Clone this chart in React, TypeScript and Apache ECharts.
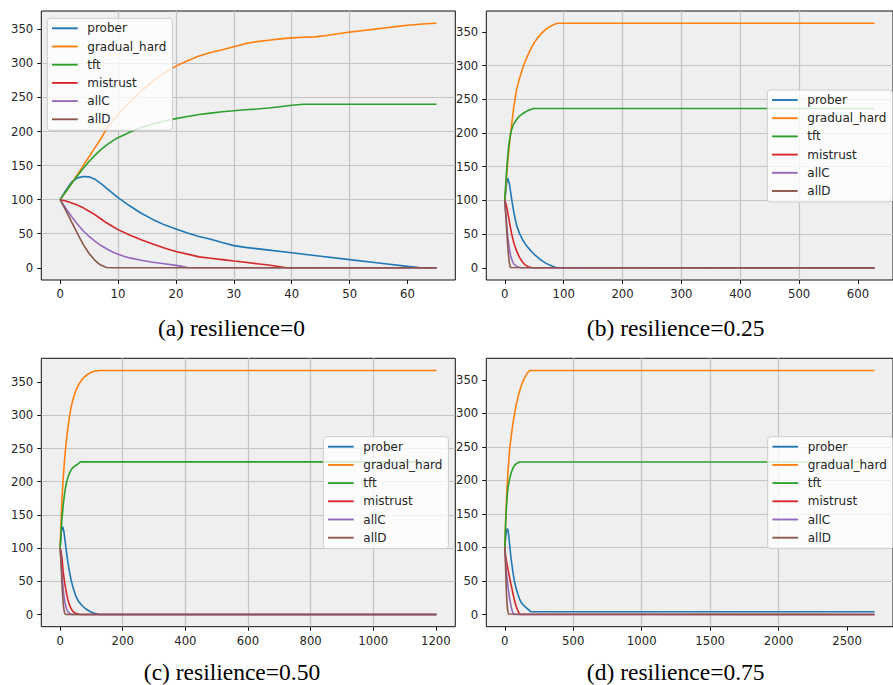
import React, { useEffect, useRef } from 'react';
import * as echarts from 'echarts';

// ---------- labels / ticks ----------
const seriesNames = ['prober', 'gradual_hard', 'tft', 'mistrust', 'allC', 'allD'];
const seriesColors = ['#1f77b4', '#ff7f0e', '#2ca02c', '#d62728', '#9467bd', '#8c564b'];
const captions = ['(a) resilience=0', '(b) resilience=0.25', '(c) resilience=0.50', '(d) resilience=0.75'];
const yTicks = [0, 50, 100, 150, 200, 250, 300, 350];
const xTicksA = [0, 10, 20, 30, 40, 50, 60];
const xTicksB = [0, 100, 200, 300, 400, 500, 600];
const xTicksC = [0, 200, 400, 600, 800, 1000, 1200];
const xTicksD = [0, 500, 1000, 1500, 2000, 2500];

// ---------- (a) resilience = 0 ----------
const aProber = [[0,100],[1,114],[2,126],[3,132],[4,134],[5,133.5],[6,130],[7,124],[8,117],[9,110],[10,103],[12,91],[14,80],[16,71],[18,63],[20,57],[22,51],[24,46],[26,42],[28,37],[30,32.5],[32,30],[35,27],[40,22],[45,17],[50,12],[55,7],[60,2],[62,0.5],[63,0],[65,0]];
const aGradual = [[0,100],[1,112],[2,124],[3,137],[4,150],[5,163],[6,176],[7,189],[8,204],[9,215],[10,225],[12,243],[14,259],[16,274],[18,286],[20,296],[22,304],[24,311],[26,316],[28,320],[30,324.5],[32,329],[34,332],[36,334],[38,336],[40,337.5],[42,338.5],[44,339],[46,341],[48,343.5],[50,346],[52,348],[54,350],[56,352],[58,354],[60,356],[62,357.5],[64,358.5],[65,359]];
const aTft = [[0,100],[1,112],[2,124],[3,135],[4,146],[5,156],[6,165],[7,173],[8,180],[9,186],[10,191],[12,199],[14,206],[16,211],[18,215.5],[20,219],[22,222],[24,225],[26,227],[28,229],[30,230.5],[32,232],[34,233],[36,234.5],[38,236.5],[40,238.5],[42,240],[65,240]];
const aMistrust = [[0,100],[1,98],[2,95],[3,92],[4,88],[5,83],[6,78],[7,72],[8,66],[9,61],[10,56],[12,48],[14,41],[16,35],[18,29],[20,24],[22,20],[24,16],[26,14],[28,12],[30,10],[32,8],[34,6],[36,4],[38,1.5],[39,0],[65,0]];
const aAllC = [[0,100],[1,87],[2,75],[3,64],[4,54],[5,46],[6,39],[7,33],[8,28],[9,23.5],[10,20],[11,17],[12,14.5],[14,11],[16,8],[18,6],[20,3.5],[21,2],[22,0.5],[23,0],[65,0]];
const aAllD = [[0,100],[1,84],[2,67],[3,50],[4,34],[5,21],[6,11],[7,4],[8,0.5],[9,0],[65,0]];

// ---------- (b) resilience = 0.25 ----------
const bProber = [[0,100],[3,125],[5,133],[6,133],[8,124],[10,112],[12,100],[15,84],[20,63],[25,51],[30,42],[35,35],[40,29.5],[45,24.5],[50,20],[60,12.5],[70,6.5],[80,2.5],[85,1],[89,0],[628,0]];
const bGradual = [[0,100],[2,124],[4,146],[6,166],[8,184],[10,200],[12,215],[15,237],[20,264],[25,281],[30,295],[35,307],[40,317],[45,326],[50,334],[55,340],[60,345.5],[65,350],[70,354],[75,357],[80,359.5],[85,361.5],[90,362.8],[628,362.8]];
const bTft = [[0,100],[2,130],[4,155],[6,175],[8,189],[10,199],[12,206],[15,213],[20,220],[25,225],[30,228.5],[35,231],[40,233.5],[45,235.2],[49,236.3],[628,236.3]];
const bMistrust = [[0,100],[2,95],[4,87],[6,77],[8,67],[10,58],[12,49],[15,38],[20,25],[25,15.5],[30,8.5],[35,4],[40,1.5],[45,0.3],[48,0],[628,0]];
const bAllC = [[0,100],[1,88],[2,77],[3,66],[4,56],[5,47],[6,39],[8,27],[10,18],[12,12],[15,6],[20,2],[25,0.5],[28,0],[628,0]];
const bAllD = [[0,100],[1,87],[2,74],[3,60],[4,46],[5,33],[6,22],[7,13],[8,6],[9,2],[10,0.3],[11,0],[628,0]];

// ---------- (c) resilience = 0.50 ----------
const cProber = [[0,100],[4,125],[7,132],[9,131],[12,125],[15,114],[20,95],[25,78],[30,64],[35,52],[40,43],[45,35],[50,28],[55,23],[60,19],[70,13.5],[80,9],[90,6],[100,3.5],[110,1.8],[120,0.7],[127,0],[1202,0]];
const cGradual = [[0,100],[3,140],[6,175],[10,206],[15,238],[20,262],[25,282],[30,298],[35,312],[40,322],[45,330],[50,337],[60,347],[70,354],[80,359],[90,362.5],[100,365],[110,366.5],[120,367.3],[128,367.6],[1202,367.6]];
const cTft = [[0,100],[3,125],[6,145],[10,165],[15,185],[20,198],[25,207],[30,213],[35,217.5],[40,221],[45,223],[50,224.5],[55,226],[60,228],[65,230],[1202,230]];
const cMistrust = [[0,100],[3,95],[6,85],[10,64],[15,46],[20,33],[25,22],[30,14],[35,9],[40,5],[45,3],[50,1.8],[55,1],[60,0.4],[66,0],[1202,0]];
const cAllC = [[0,100],[2,88],[4,74],[6,61],[8,49],[10,38],[12,29],[15,19],[20,9],[25,4],[30,1.5],[35,0.3],[38,0],[1202,0]];
const cAllD = [[0,100],[2,85],[4,66],[6,46],[8,29],[10,16],[12,8],[14,3],[16,0.8],[18,0],[1202,0]];

// ---------- (d) resilience = 0.75 ----------
const dProber = [[0,100],[8,118],[15,127],[20,128],[25,124],[30,116],[36,103],[45,85],[55,70],[60,62],[70,50],[84,38],[96,30],[108,23],[120,18],[132,15],[144,12.5],[160,9.5],[175,7],[185,5],[190,4],[2700,4]];
const dGradual = [[0,100],[8,150],[16,188],[24,215],[36,248],[48,268],[60,286],[72,300],[84,313],[96,324],[108,333],[120,341],[132,347.5],[144,353],[156,357.5],[168,361],[180,363.5],[186,364],[2700,364]];
const dTft = [[0,100],[6,135],[12,160],[18,178],[24,190],[36,203],[48,212],[60,218.5],[72,222.5],[84,225],[96,226.5],[108,227.6],[2700,227.6]];
const dMistrust = [[0,100],[6,88],[12,80],[24,67],[36,54],[48,42.5],[60,31],[72,20],[84,11.5],[96,5.5],[104,2.5],[112,0],[2700,0]];
const dAllC = [[0,100],[6,80],[12,63],[24,40],[36,23],[48,10],[55,5],[60,2],[65,0],[2700,0]];
const dAllD = [[0,100],[4,82],[8,55],[12,33],[16,17],[20,8],[24,3],[28,0.8],[31,0],[2700,0]];

const panelData = [
  [aProber, aGradual, aTft, aMistrust, aAllC, aAllD],
  [bProber, bGradual, bTft, bMistrust, bAllC, bAllD],
  [cProber, cGradual, cTft, cMistrust, cAllC, cAllD],
  [dProber, dGradual, dTft, dMistrust, dAllC, dAllD],
];
const panelXTicks = [xTicksA, xTicksB, xTicksC, xTicksD];

// ---------- layout (pixels) ----------
const panelLayout = [
  { grid: { left: 41.3, top: 11, width: 414, height: 269 }, legend: { left: 47.3, top: 18.3 }, caption: { x: 231.5, y: 328 } },
  { grid: { left: 486.3, top: 11, width: 414, height: 269 }, legend: { left: 767.3, top: 90 }, caption: { x: 675.7, y: 328 } },
  { grid: { left: 41.3, top: 358.3, width: 414, height: 268.4 }, legend: { left: 323.3, top: 436.7 }, caption: { x: 232, y: 672 } },
  { grid: { left: 486.3, top: 358.3, width: 414, height: 268.4 }, legend: { left: 767.7, top: 436.7 }, caption: { x: 675.7, y: 672 } },
];

const TICK_FONT = 'DejaVu Sans';
const TEXT_COLOR = '#262626';
const FRAME_COLOR = '#111111';
const LEGEND_LINE = 'path://M0,0L26,0L26,1.9L0,1.9Z';

function buildOption() {
  const grid: any[] = [];
  const xAxis: any[] = [];
  const yAxis: any[] = [];
  const series: any[] = [];
  const legend: any[] = [];
  const graphic: any[] = [];

  panelData.forEach((lines, i) => {
    const lay = panelLayout[i];
    let xMax = 0;
    let yMax = 0;
    lines.forEach((pts) => pts.forEach(([x, y]) => { if (x > xMax) xMax = x; if (y > yMax) yMax = y; }));
    const ticks = panelXTicks[i];
    const xStep = ticks[1] - ticks[0];

    grid.push({
      ...lay.grid,
      show: true,
      backgroundColor: '#efefef',
      borderColor: FRAME_COLOR,
      borderWidth: 1,
      containLabel: false,
    });
    xAxis.push({
      type: 'value',
      gridIndex: i,
      position: 'bottom',
      min: -0.05 * xMax,
      max: 1.05 * xMax,
      minInterval: xStep,
      maxInterval: xStep,
      axisLine: { show: false, onZero: false },
      axisTick: { show: true, inside: false, length: 4, customValues: ticks, lineStyle: { color: FRAME_COLOR, width: 1 } },
      axisLabel: {
        customValues: ticks,
        margin: 8,
        fontFamily: TICK_FONT,
        fontSize: 11.7,
        color: TEXT_COLOR,
        formatter: (v: number) => String(v),
      },
      splitLine: { show: true, showMinLine: false, showMaxLine: false, lineStyle: { color: '#c4c4c4', width: 1.2 } },
    });
    yAxis.push({
      type: 'value',
      gridIndex: i,
      position: 'left',
      min: -0.05 * yMax,
      max: 1.05 * yMax,
      minInterval: 50,
      maxInterval: 50,
      axisLine: { show: false, onZero: false },
      axisTick: { show: true, inside: false, length: 4, customValues: yTicks, lineStyle: { color: FRAME_COLOR, width: 1 } },
      axisLabel: {
        customValues: yTicks,
        margin: 8,
        fontFamily: TICK_FONT,
        fontSize: 11.7,
        color: TEXT_COLOR,
        formatter: (v: number) => String(v),
      },
      splitLine: { show: true, showMinLine: false, showMaxLine: false, lineStyle: { color: '#c4c4c4', width: 1.2 } },
    });
    lines.forEach((pts, k) => {
      series.push({
        type: 'line',
        name: seriesNames[k],
        xAxisIndex: i,
        yAxisIndex: i,
        data: pts,
        symbol: 'none',
        showSymbol: false,
        color: seriesColors[k],
        lineStyle: { color: seriesColors[k], width: 1.6 },
        z: 2 + k * 0.01,
      });
    });
    legend.push({
      orient: 'vertical',
      left: lay.legend.left,
      top: lay.legend.top,
      data: seriesNames.map((n) => ({ name: n, icon: LEGEND_LINE })),
      icon: LEGEND_LINE,
      itemWidth: 25.7,
      itemHeight: 14,
      itemGap: 4.2,
      padding: [3, 6, 4, 4.7],
      backgroundColor: 'rgba(255,255,255,0.8)',
      borderColor: '#cccccc',
      borderWidth: 1,
      borderRadius: 3,
      selectedMode: false,
      textStyle: { fontFamily: TICK_FONT, fontSize: 12, color: TEXT_COLOR, lineHeight: 14, padding: [0, 0, 0, 4.6] },
      z: 10,
    });
    graphic.push({
      type: 'text',
      x: lay.caption.x,
      y: lay.caption.y,
      style: {
        text: captions[i],
        font: '23.5px "Liberation Serif", "Times New Roman", serif',
        fill: '#000000',
        align: 'center',
        verticalAlign: 'middle',
      },
    });
  });

  return {
    animation: false,
    backgroundColor: '#ffffff',
    grid,
    xAxis,
    yAxis,
    series,
    legend,
    graphic,
  };
}

export default function App() {
  const ref = useRef<HTMLDivElement>(null);
  useEffect(() => {
    if (!ref.current) return;
    const chart = echarts.init(ref.current, null, { renderer: 'svg' });
    chart.setOption(buildOption() as any);
    return () => chart.dispose();
  }, []);
  return (
    <div
      ref={ref}
      style={{ position: 'absolute', left: 0, top: 0, width: 893, height: 685 }}
    />
  );
}
